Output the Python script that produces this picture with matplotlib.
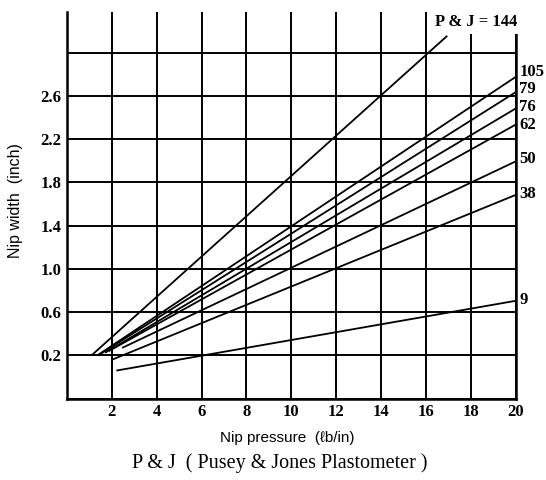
import matplotlib
matplotlib.use('Agg')
import matplotlib.pyplot as plt

# ---- data ----
pj_values = ['144', '105', '79', '76', '62', '50', '38', '9']
x_start = [1.09, 1.35, 1.50, 1.70, 1.86, 2.46, 2.00, 2.20]
y_start = [0.20, 0.20, 0.215, 0.225, 0.24, 0.27, 0.16, 0.06]
x_end = [16.95, 20, 20, 20, 20, 20, 20, 20]
y_end = [3.155, 2.775, 2.634, 2.483, 2.334, 1.994, 1.684, 0.705]

x_tick_values = [2, 4, 6, 8, 10, 12, 14, 16, 18, 20]
x_tick_labels = ['2', '4', '6', '8', '10', '12', '14', '16', '18', '20']
y_tick_values = [0.2, 0.6, 1.0, 1.4, 1.8, 2.2, 2.6]
y_tick_labels = ['0.2', '0.6', '1.0', '1.4', '1.8', '2.2', '2.6']
x_grid = [0, 2, 4, 6, 8, 10, 12, 14, 16, 18, 20]
y_grid = [-0.2, 0.2, 0.6, 1.0, 1.4, 1.8, 2.2, 2.6, 3.0]

x_label = 'Nip pressure  (\u2113b/in)'
y_label = 'Nip width  (inch)'
title = 'P & J  ( Pusey & Jones Plastometer )'
top_label = 'P & J = 144'

# label vertical nudges (points) to keep right-hand labels apart
label_dy = {'105': 3.5, '79': 2.0, '76': 1.0, '62': 0.0, '50': 1.5, '38': 0.5, '9': 0.5}

serif = ['Liberation Serif', 'DejaVu Serif']
sans = ['Liberation Sans', 'DejaVu Sans']

fig = plt.figure(figsize=(5.46, 4.8), dpi=100)
W, H = 546, 480
ax = fig.add_axes([67 / W, (H - 398.7) / H, 448.7 / W, 386.7 / H])
ax.set_xlim(0, 20)
ax.set_ylim(-0.2, 3.375)

for xv in x_grid:
    ax.axvline(xv, color='black', lw=1.4, zorder=1)
for yv in y_grid:
    ax.axhline(yv, color='black', lw=1.4, zorder=1)

for name, xs, ys, xe, ye in zip(pj_values, x_start, y_start, x_end, y_end):
    ax.plot([xs, xe], [ys, ye], color='black', lw=1.3, zorder=3,
            solid_capstyle='butt')
    if name != '144':
        ax.annotate(name, xy=(xe, ye), xytext=(2.5, label_dy.get(name, 0)),
                    textcoords='offset points', ha='left', va='center',
                    fontsize=12, fontweight='bold', family=serif,
                    annotation_clip=False)

ax.text(16.4, 3.28, top_label, ha='left', va='center', fontsize=12,
        fontweight='bold', family=serif, zorder=6,
        bbox=dict(facecolor='white', edgecolor='none', pad=3.0),
        clip_on=False)

for s in ['left', 'bottom', 'right']:
    ax.spines[s].set_linewidth(1.8)
    ax.spines[s].set_zorder(2)
ax.spines['top'].set_visible(False)

ax.set_xticks(x_tick_values)
ax.set_xticklabels(x_tick_labels, fontsize=12, fontweight='bold', family=serif)
ax.set_yticks(y_tick_values)
ax.set_yticklabels(y_tick_labels, fontsize=12, fontweight='bold', family=serif)
ax.tick_params(axis='both', length=0)
ax.tick_params(axis='x', pad=4)
ax.tick_params(axis='y', pad=4)

fig.text(287 / W, 1 - 438 / H, x_label, ha='center', va='center',
         fontsize=11, family=sans)
fig.text(16 / W, 1 - 201 / H, y_label, ha='center', va='center',
         rotation=90, fontsize=11.5, family=sans)
fig.text(280 / W, 1 - 463 / H, title, ha='center', va='center',
         fontsize=14.5, family=serif)

fig.savefig('out.png', dpi=100)
